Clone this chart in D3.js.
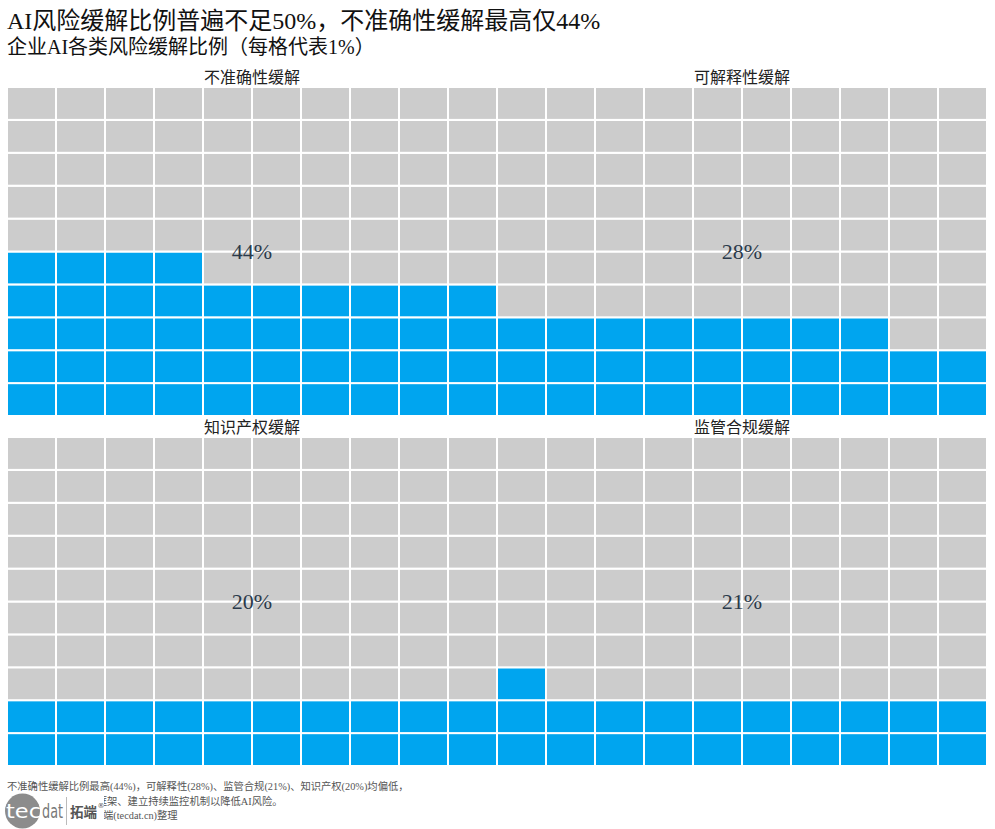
<!DOCTYPE html>
<html>
<head>
<meta charset="utf-8">
<script src="https://cdn.jsdelivr.net/npm/d3@7"></script>
<style>
  body { margin: 0; background: #fff; }
  svg { display: block; }
</style>
</head>
<body>
<div class="chart"></div>
<script>
const WIDTH = 995;
const HEIGHT = 829;

const TITLE = "AI风险缓解比例普遍不足50%，不准确性缓解最高仅44%";
const SUBTITLE = "企业AI各类风险缓解比例（每格代表1%）";
const CATEGORIES = ["不准确性缓解", "可解释性缓解", "知识产权缓解", "监管合规缓解"];
const VALUES = [44, 28, 20, 21];
const NOTES = [
  "不准确性缓解比例最高(44%)，可解释性(28%)、监管合规(21%)、知识产权(20%)均偏低，",
  "建议企业完善风险缓解框架、建立持续监控机制以降低AI风险。",
  "数据来源：企业调研，拓端(tecdat.cn)整理"
];
// where the visible part of each note line starts (logo covers the rest)
const NOTE_ANCHOR = [[0, 7], [11, 107], [11, 103]];

const GRID = 10;
const STRIP = 21;
const BLUE = "#00a5ef";
const GRAY = "#cccccc";
const FONT = "'Liberation Serif', 'Noto Sans CJK SC', serif";

const svg = d3.select(".chart").append("svg")
  .attr("width", WIDTH).attr("height", HEIGHT);

// Titles
svg.append("text").attr("x", 7).attr("y", 29)
  .attr("font-family", FONT).attr("font-size", 24).attr("fill", "#111")
  .text(TITLE);
svg.append("text").attr("x", 7).attr("y", 54)
  .attr("font-family", FONT).attr("font-size", 20).attr("fill", "#111")
  .text(SUBTITLE);

// Panel layout (2 x 2 facets)
const panelX = d3.scaleBand().domain([0, 1]).range([7, 987]);
const panelY = d3.scaleBand().domain([0, 1]).range([66, 766]);
const colScale = d3.scaleBand().domain(d3.range(GRID)).range([0, panelX.bandwidth()]);
const rowScale = d3.scaleBand().domain(d3.range(GRID)).range([panelY.bandwidth(), STRIP]);

const panels = svg.selectAll("g.panel")
  .data(CATEGORIES.map((c, i) => ({ name: c, value: VALUES[i], idx: i })))
  .enter().append("g")
  .attr("class", "panel")
  .attr("transform", d => `translate(${panelX(d.idx % 2)}, ${panelY(Math.floor(d.idx / 2))})`);

panels.append("text")
  .attr("x", panelX.bandwidth() / 2).attr("y", STRIP - 4)
  .attr("text-anchor", "middle")
  .attr("font-family", FONT).attr("font-size", 16).attr("fill", "#222")
  .text(d => d.name);

panels.selectAll("rect")
  .data(d => d3.range(GRID * GRID).map(i => ({ i, filled: i < d.value })))
  .enter().append("rect")
  .attr("x", d => colScale(d.i % GRID))
  .attr("y", d => rowScale(Math.floor(d.i / GRID)))
  .attr("width", colScale.bandwidth())
  .attr("height", rowScale.bandwidth())
  .attr("fill", d => d.filled ? BLUE : GRAY)
  .attr("stroke", "#fff")
  .attr("stroke-width", 2);

panels.append("text")
  .attr("x", panelX.bandwidth() / 2)
  .attr("y", (STRIP + panelY.bandwidth()) / 2)
  .attr("text-anchor", "middle")
  .attr("dominant-baseline", "central")
  .attr("font-family", FONT).attr("font-size", 22).attr("fill", "#2b3a4a")
  .text(d => d.value + "%");

// Footer notes
svg.selectAll("text.note").data(NOTES).enter().append("text")
  .attr("class", "note")
  .attr("x", 7).attr("y", (d, i) => 790 + i * 14.5)
  .attr("font-family", FONT).attr("font-size", 10.3).attr("fill", "#555")
  .text(d => d)
  .each(function(d, i) {
    const [ci, px] = NOTE_ANCHOR[i];
    const start = this.getStartPositionOfChar(ci).x;
    d3.select(this).attr("x", 7 + px - start);
  });

// Logo (covers start of the last two lines)
const logo = svg.append("g");
logo.append("rect").attr("x", 0).attr("y", 793).attr("width", 104).attr("height", 36).attr("fill", "#fff");
logo.append("circle").attr("cx", 22.5).attr("cy", 811).attr("r", 17.5).attr("fill", "#8c8c8c");
logo.append("text").attr("x", 6).attr("y", 818)
  .attr("font-family", "'DejaVu Sans', sans-serif").attr("font-size", 20)
  .attr("textLength", 35).attr("lengthAdjust", "spacingAndGlyphs")
  .attr("fill", "#fff").text("tec");
logo.append("text").attr("x", 42).attr("y", 818)
  .attr("font-family", "'DejaVu Sans', sans-serif").attr("font-size", 20)
  .attr("textLength", 21).attr("lengthAdjust", "spacingAndGlyphs")
  .attr("fill", "#777").text("dat");
logo.append("line").attr("x1", 66.5).attr("x2", 66.5).attr("y1", 797).attr("y2", 825)
  .attr("stroke", "#bbb").attr("stroke-width", 1);
logo.append("text").attr("x", 70).attr("y", 817)
  .attr("font-family", "'Noto Sans CJK SC', sans-serif").attr("font-size", 14).attr("font-weight", "bold")
  .attr("textLength", 27).attr("lengthAdjust", "spacingAndGlyphs")
  .attr("fill", "#555").text("拓端");
logo.append("text").attr("x", 97.5).attr("y", 808)
  .attr("font-family", "'DejaVu Sans', sans-serif").attr("font-size", 7)
  .attr("fill", "#555").text("®");
</script>
</body>
</html>
